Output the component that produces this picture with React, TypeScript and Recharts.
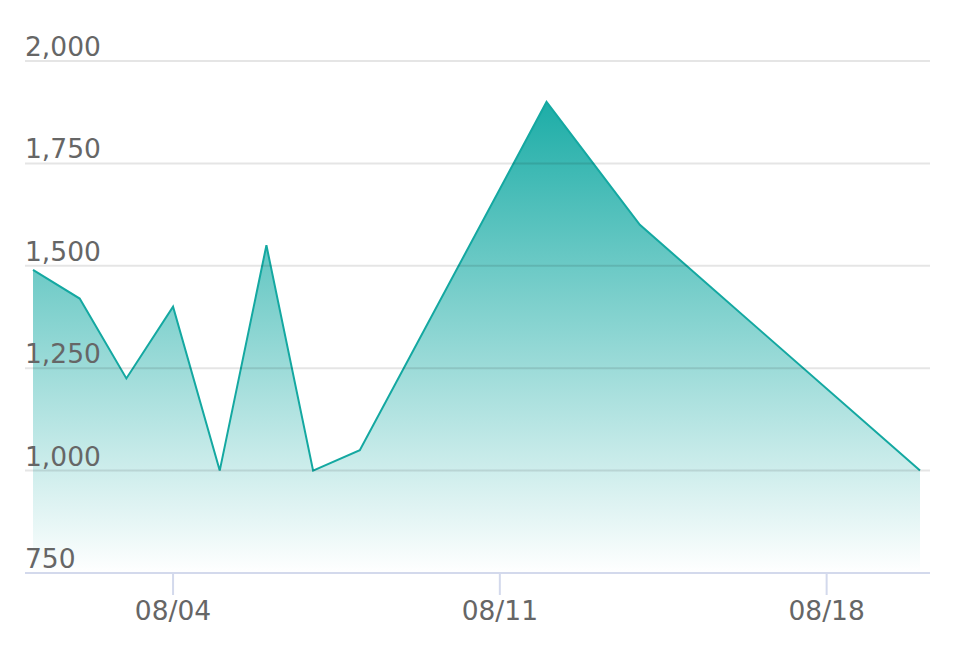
import { AreaChart, Area, XAxis, YAxis, ReferenceLine } from "recharts";

// days of August that have a value
const days = [1, 2, 3, 4, 5, 6, 7, 8, 12, 14, 20];
const visits = [1490, 1420, 1225, 1400, 1000, 1550, 1000, 1050, 1900, 1600, 1000];

const yTicks = [750, 1000, 1250, 1500, 1750, 2000];
const xTicks = [4, 11, 18];

const data = days.map((d, i) => ({ day: d, value: visits[i] }));

const TEXT = "#666666";
const FONT = "'DejaVu Sans', Verdana, sans-serif";
const LEFT = 25;

const pad = (n: number) => (n < 10 ? `0${n}` : `${n}`);

const gridLabel = (value: number) => (props: any) => {
  const { viewBox } = props;
  return (
    <text x={LEFT} y={viewBox.y - 5} fill={TEXT} fontSize={26.5} fontFamily={FONT} textAnchor="start">
      {value.toLocaleString("en-US")}
    </text>
  );
};

const XTick = (props: any) => {
  const { x, payload } = props;
  return (
    <text x={x} y={620} fill={TEXT} fontSize={26.5} fontFamily={FONT} textAnchor="middle">
      {`08/${pad(payload.value)}`}
    </text>
  );
};

export default function App() {
  return (
    <div style={{ position: "absolute", left: 0, top: 0, background: "#fff" }}>
      <AreaChart
        width={954}
        height={648}
        data={data}
        margin={{ top: 61, right: 24, left: LEFT, bottom: 35 }}
      >
        <defs>
          <linearGradient id="fillTeal" x1="0" y1="0" x2="0" y2="1">
            <stop offset="0%" stopColor="#1dada7" stopOpacity={1} />
            <stop offset="100%" stopColor="#1dada7" stopOpacity={0} />
          </linearGradient>
        </defs>
        <XAxis
          dataKey="day"
          type="number"
          domain={[1, 20]}
          ticks={xTicks}
          padding={{ left: 8, right: 10 }}
          height={40}
          stroke="#d3d9ec"
          strokeWidth={2}
          tickSize={22}
          tick={<XTick />}
        />
        <YAxis type="number" domain={[750, 2000]} ticks={yTicks} hide />
        <Area
          type="linear"
          dataKey="value"
          stroke="#14a8a1"
          strokeWidth={2}
          fill="url(#fillTeal)"
          fillOpacity={1}
          dot={false}
          activeDot={false}
          isAnimationActive={false}
        />
        {yTicks.map((t, i) => (
          <ReferenceLine
            key={t}
            y={t}
            stroke={i === 0 ? "none" : "rgba(0,0,0,0.1)"}
            strokeWidth={2}
            label={gridLabel(t)}
          />
        ))}
      </AreaChart>
    </div>
  );
}
